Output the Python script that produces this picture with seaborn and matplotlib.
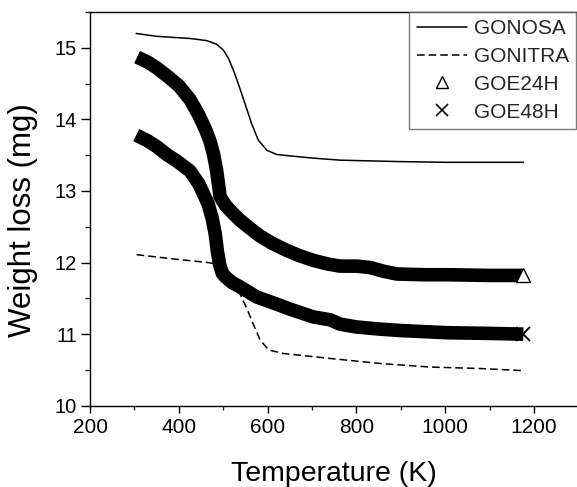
import matplotlib
matplotlib.use("Agg")
import matplotlib.pyplot as plt
from matplotlib.lines import Line2D
from matplotlib.ticker import MultipleLocator
import seaborn as sns

# ---------------- data ----------------
t_nosa = [304, 350, 425, 463, 485, 500, 512, 524, 536, 549, 564, 579, 598, 620,
          650, 700, 763, 898, 1000, 1100, 1176]
w_nosa = [15.20, 15.16, 15.13, 15.10, 15.05, 14.97, 14.85, 14.67, 14.46, 14.22,
          13.94, 13.71, 13.57, 13.51, 13.49, 13.46, 13.43, 13.41, 13.40, 13.40,
          13.40]

t_nitra = [305, 388, 466, 500, 520, 541, 555, 567, 583, 602, 635, 741, 853, 966,
           1078, 1176]
w_nitra = [12.11, 12.05, 12.00, 11.96, 11.78, 11.52, 11.33, 11.15, 10.92, 10.78,
           10.73, 10.66, 10.59, 10.54, 10.52, 10.49]

t_24h = [306, 330, 350, 375, 400, 425, 445, 460, 470, 478, 485, 493, 505, 520,
         538, 560, 583, 610, 643, 670, 703, 735, 763, 800, 831, 860, 891, 950,
         1003, 1100, 1176]
w_24h = [14.87, 14.80, 14.72, 14.60, 14.47, 14.28, 14.06, 13.86, 13.70, 13.52,
         13.29, 12.92, 12.80, 12.70, 12.59, 12.48, 12.37, 12.27, 12.17, 12.10,
         12.03, 11.98, 11.95, 11.95, 11.93, 11.88, 11.84, 11.83, 11.83, 11.82,
         11.82]

t_48h = [304, 330, 350, 375, 395, 425, 445, 466, 475, 482, 487, 492, 498, 505,
         520, 538, 575, 620, 650, 703, 741, 763, 800, 853, 900, 1003, 1100, 1176]
w_48h = [13.78, 13.70, 13.62, 13.50, 13.42, 13.28, 13.10, 12.82, 12.62, 12.40,
         12.15, 11.97, 11.85, 11.80, 11.72, 11.66, 11.52, 11.42, 11.35, 11.24,
         11.20, 11.14, 11.10, 11.07, 11.05, 11.02, 11.01, 11.00]

labels = ["GONOSA", "GONITRA", "GOE24H", "GOE48H"]
x_ticks = [200, 400, 600, 800, 1000, 1200]
y_ticks = [10, 11, 12, 13, 14, 15]

# ---------------- style ----------------
sns.set_style("ticks")
plt.rcParams["font.family"] = ["Liberation Sans", "DejaVu Sans"]

fig = plt.figure(figsize=(5.77, 4.87), dpi=100)
ax = fig.add_axes([0.156, 0.1669, 0.8465, 0.8085])

sns.lineplot(x=t_nosa, y=w_nosa, ax=ax, color="black", lw=1.1,
             estimator=None, sort=False)
sns.lineplot(x=t_nitra, y=w_nitra, ax=ax, color="black", lw=1.1,
             estimator=None, sort=False, linestyle=(0, (5, 2.6)))

band_lw = 9.8
sns.lineplot(x=t_24h, y=w_24h, ax=ax, color="black", lw=band_lw,
             estimator=None, sort=False, solid_capstyle="butt",
             solid_joinstyle="round", marker="^", markevery=[len(t_24h) - 1],
             ms=9.4, mfc="white", mec="black", mew=1.0)
sns.lineplot(x=t_48h, y=w_48h, ax=ax, color="black", lw=band_lw,
             estimator=None, sort=False, solid_capstyle="butt",
             solid_joinstyle="round", marker="x", markevery=[len(t_48h) - 1],
             ms=9.4, mec="black", mew=1.4)

ax.set_xlim(200, 1300)
ax.set_ylim(10, 15.5)
ax.set_xticks(x_ticks)
ax.set_yticks(y_ticks)
ax.set_xticklabels([str(v) for v in x_ticks])
ax.set_yticklabels([str(v) for v in y_ticks])
ax.xaxis.set_minor_locator(MultipleLocator(100))
ax.yaxis.set_minor_locator(MultipleLocator(0.5))

for s in ax.spines.values():
    s.set_visible(True)
    s.set_color("black")
    s.set_linewidth(1.0)

ax.tick_params(axis="x", which="major", direction="out", length=5, width=1,
               labelsize=15, pad=3.5, colors="black", top=False)
ax.tick_params(axis="x", which="minor", direction="out", length=3, width=1,
               top=False)
ax.tick_params(axis="y", which="major", direction="out", length=6.8, width=1,
               labelsize=14.5, pad=2.5, colors="black", right=False)
ax.tick_params(axis="y", which="minor", direction="out", length=3.6, width=1,
               right=False)

ax.set_xlabel("Temperature (K)", fontsize=20.5, color="black")
ax.set_ylabel("Weight loss (mg)", fontsize=22.5, color="black")
ax.xaxis.set_label_coords(0.5, -0.1405)
ax.yaxis.set_label_coords(-0.1065, 0.4717)

handles = [
    Line2D([], [], color="black", lw=1.1),
    Line2D([], [], color="black", lw=1.1, linestyle=(0, (5, 2.6))),
    Line2D([], [], color="black", lw=0, marker="^", ms=8, mfc="white",
           mec="black", mew=1.0),
    Line2D([], [], color="black", lw=0, marker="x", ms=8, mec="black",
           mew=1.2),
]
leg = ax.legend(handles, labels, loc="upper right", bbox_to_anchor=(0.9955, 1.0),
                borderaxespad=0, frameon=True, fancybox=False, fontsize=15,
                handlelength=2.4, handletextpad=0.35, labelspacing=0.42,
                borderpad=0.35)
leg.get_frame().set_edgecolor("0.35")
leg.get_frame().set_linewidth(1.0)

fig.savefig("out.png", dpi=100)
